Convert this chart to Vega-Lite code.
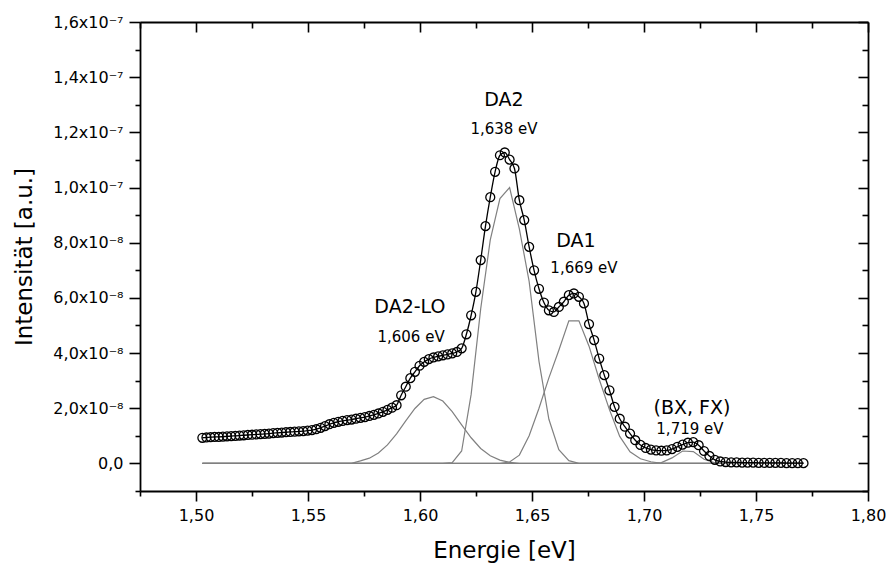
{
  "$schema": "https://vega.github.io/schema/vega-lite/v6.json",
  "width": 728,
  "height": 469,
  "autosize": {"type": "none"},
  "padding": {"left": 140, "top": 22, "right": 21, "bottom": 74},
  "background": "white",
  "config": {
    "view": {"stroke": null},
    "axis": {
      "domainColor": "black", "tickColor": "black", "domainWidth": 1.8, "tickWidth": 1.6,
      "labelFont": "DejaVu Sans", "labelFontSize": 16, "labelColor": "black",
      "titleFont": "DejaVu Sans", "titleFontSize": 23, "titleFontWeight": "normal", "titleColor": "black",
      "grid": false, "labelFlush": false, "labelOverlap": false
    }
  },
  "datasets": {
    "pts": [
      {"E":1.50284,"I":0.93e-8},{"E":1.50466,"I":0.94e-8},{"E":1.50649,"I":0.95e-8},{"E":1.50832,"I":0.96e-8},
      {"E":1.51016,"I":0.96e-8},{"E":1.51200,"I":0.97e-8},{"E":1.51385,"I":0.98e-8},{"E":1.51570,"I":0.99e-8},
      {"E":1.51755,"I":1.00e-8},{"E":1.51941,"I":1.01e-8},{"E":1.52127,"I":1.02e-8},{"E":1.52314,"I":1.03e-8},
      {"E":1.52502,"I":1.04e-8},{"E":1.52690,"I":1.05e-8},{"E":1.52878,"I":1.06e-8},{"E":1.53067,"I":1.07e-8},
      {"E":1.53256,"I":1.08e-8},{"E":1.53446,"I":1.10e-8},{"E":1.53636,"I":1.11e-8},{"E":1.53826,"I":1.12e-8},
      {"E":1.54017,"I":1.13e-8},{"E":1.54209,"I":1.14e-8},{"E":1.54401,"I":1.15e-8},{"E":1.54594,"I":1.16e-8},
      {"E":1.54787,"I":1.17e-8},{"E":1.54980,"I":1.19e-8},{"E":1.55174,"I":1.21e-8},{"E":1.55368,"I":1.24e-8},
      {"E":1.55563,"I":1.29e-8},{"E":1.55759,"I":1.35e-8},{"E":1.55955,"I":1.42e-8},{"E":1.56151,"I":1.47e-8},
      {"E":1.56348,"I":1.51e-8},{"E":1.56545,"I":1.54e-8},{"E":1.56743,"I":1.57e-8},{"E":1.56942,"I":1.59e-8},
      {"E":1.57141,"I":1.62e-8},{"E":1.57340,"I":1.65e-8},{"E":1.57540,"I":1.68e-8},{"E":1.57740,"I":1.72e-8},
      {"E":1.57941,"I":1.76e-8},{"E":1.58143,"I":1.81e-8},{"E":1.58345,"I":1.87e-8},{"E":1.58547,"I":1.94e-8},
      {"E":1.58750,"I":2.02e-8},{"E":1.58954,"I":2.11e-8},{"E":1.59158,"I":2.47e-8},{"E":1.59363,"I":2.78e-8},
      {"E":1.59568,"I":3.09e-8},{"E":1.59773,"I":3.32e-8},{"E":1.59979,"I":3.54e-8},{"E":1.60186,"I":3.68e-8},
      {"E":1.60393,"I":3.78e-8},{"E":1.60601,"I":3.84e-8},{"E":1.60809,"I":3.88e-8},{"E":1.61018,"I":3.92e-8},
      {"E":1.61228,"I":3.95e-8},{"E":1.61438,"I":3.99e-8},{"E":1.61648,"I":4.04e-8},{"E":1.61859,"I":4.17e-8},
      {"E":1.62071,"I":4.68e-8},{"E":1.62283,"I":5.37e-8},{"E":1.62496,"I":6.22e-8},{"E":1.62709,"I":7.37e-8},
      {"E":1.62923,"I":8.60e-8},{"E":1.63137,"I":9.65e-8},{"E":1.63352,"I":10.57e-8},{"E":1.63568,"I":11.17e-8},
      {"E":1.63784,"I":11.27e-8},{"E":1.64000,"I":11.01e-8},{"E":1.64217,"I":10.69e-8},{"E":1.64435,"I":9.54e-8},
      {"E":1.64653,"I":8.82e-8},{"E":1.64872,"I":7.85e-8},{"E":1.65092,"I":7.00e-8},{"E":1.65312,"I":6.33e-8},
      {"E":1.65532,"I":5.83e-8},{"E":1.65754,"I":5.55e-8},{"E":1.65976,"I":5.49e-8},{"E":1.66198,"I":5.67e-8},
      {"E":1.66422,"I":5.86e-8},{"E":1.66645,"I":6.10e-8},{"E":1.66869,"I":6.16e-8},{"E":1.67094,"I":6.04e-8},
      {"E":1.67320,"I":5.80e-8},{"E":1.67546,"I":5.05e-8},{"E":1.67773,"I":4.47e-8},{"E":1.68000,"I":3.80e-8},
      {"E":1.68228,"I":3.20e-8},{"E":1.68457,"I":2.65e-8},{"E":1.68686,"I":2.05e-8},{"E":1.68916,"I":1.62e-8},
      {"E":1.69146,"I":1.33e-8},{"E":1.69377,"I":1.08e-8},{"E":1.69609,"I":0.84e-8},{"E":1.69841,"I":0.67e-8},
      {"E":1.70074,"I":0.56e-8},{"E":1.70308,"I":0.50e-8},{"E":1.70542,"I":0.47e-8},{"E":1.70777,"I":0.46e-8},
      {"E":1.71013,"I":0.47e-8},{"E":1.71249,"I":0.52e-8},{"E":1.71486,"I":0.60e-8},{"E":1.71723,"I":0.68e-8},
      {"E":1.71961,"I":0.75e-8},{"E":1.72200,"I":0.77e-8},{"E":1.72440,"I":0.66e-8},{"E":1.72680,"I":0.45e-8},
      {"E":1.72920,"I":0.27e-8},{"E":1.73162,"I":0.13e-8},{"E":1.73404,"I":0.07e-8},{"E":1.73647,"I":0.05e-8},
      {"E":1.73891,"I":0.04e-8},{"E":1.74135,"I":0.04e-8},{"E":1.74380,"I":0.03e-8},{"E":1.74625,"I":0.03e-8},
      {"E":1.74871,"I":0.03e-8},{"E":1.75118,"I":0.02e-8},{"E":1.75366,"I":0.02e-8},{"E":1.75614,"I":0.02e-8},
      {"E":1.75864,"I":0.02e-8},{"E":1.76114,"I":0.02e-8},{"E":1.76364,"I":0.01e-8},{"E":1.76615,"I":0.01e-8},
      {"E":1.76867,"I":0.01e-8},{"E":1.77120,"I":0.01e-8}
    ],
    "comp": [
      {"c":"DA2-LO","E":1.50284,"I":0},{"c":"DA2-LO","E":1.56942,"I":0},{"c":"DA2-LO","E":1.57340,"I":0.09e-8},
      {"c":"DA2-LO","E":1.57740,"I":0.19e-8},{"c":"DA2-LO","E":1.58143,"I":0.38e-8},{"c":"DA2-LO","E":1.58547,"I":0.67e-8},
      {"c":"DA2-LO","E":1.58954,"I":1.07e-8},{"c":"DA2-LO","E":1.59363,"I":1.54e-8},{"c":"DA2-LO","E":1.59773,"I":1.99e-8},
      {"c":"DA2-LO","E":1.60186,"I":2.32e-8},{"c":"DA2-LO","E":1.60601,"I":2.42e-8},{"c":"DA2-LO","E":1.61018,"I":2.26e-8},
      {"c":"DA2-LO","E":1.61438,"I":1.88e-8},{"c":"DA2-LO","E":1.61859,"I":1.40e-8},{"c":"DA2-LO","E":1.62283,"I":0.93e-8},
      {"c":"DA2-LO","E":1.62709,"I":0.54e-8},{"c":"DA2-LO","E":1.63137,"I":0.28e-8},{"c":"DA2-LO","E":1.63568,"I":0.12e-8},
      {"c":"DA2-LO","E":1.64000,"I":0.04e-8},{"c":"DA2-LO","E":1.64435,"I":0},{"c":"DA2-LO","E":1.77120,"I":0},
      {"c":"DA2","E":1.50284,"I":0},{"c":"DA2","E":1.61018,"I":0},{"c":"DA2","E":1.61438,"I":0.03e-8},
      {"c":"DA2","E":1.61859,"I":0.45e-8},{"c":"DA2","E":1.62283,"I":2.5e-8},{"c":"DA2","E":1.62709,"I":5.6e-8},
      {"c":"DA2","E":1.63137,"I":8.1e-8},{"c":"DA2","E":1.63568,"I":9.6e-8},{"c":"DA2","E":1.64000,"I":10.0e-8},
      {"c":"DA2","E":1.64435,"I":8.5e-8},{"c":"DA2","E":1.64872,"I":6.6e-8},{"c":"DA2","E":1.65312,"I":3.7e-8},
      {"c":"DA2","E":1.65754,"I":1.6e-8},{"c":"DA2","E":1.66198,"I":0.5e-8},{"c":"DA2","E":1.66645,"I":0.1e-8},
      {"c":"DA2","E":1.67094,"I":0},{"c":"DA2","E":1.77120,"I":0},
      {"c":"DA1","E":1.50284,"I":0},{"c":"DA1","E":1.63568,"I":0},{"c":"DA1","E":1.64000,"I":0.05e-8},
      {"c":"DA1","E":1.64435,"I":0.3e-8},{"c":"DA1","E":1.64872,"I":1.0e-8},{"c":"DA1","E":1.65312,"I":2.0e-8},
      {"c":"DA1","E":1.65754,"I":3.1e-8},{"c":"DA1","E":1.66198,"I":4.1e-8},{"c":"DA1","E":1.66645,"I":5.17e-8},
      {"c":"DA1","E":1.67094,"I":5.17e-8},{"c":"DA1","E":1.67546,"I":4.25e-8},{"c":"DA1","E":1.68000,"I":3.05e-8},
      {"c":"DA1","E":1.68457,"I":1.95e-8},{"c":"DA1","E":1.68916,"I":0.98e-8},{"c":"DA1","E":1.69377,"I":0.42e-8},
      {"c":"DA1","E":1.69841,"I":0.17e-8},{"c":"DA1","E":1.70308,"I":0.06e-8},{"c":"DA1","E":1.70777,"I":0},
      {"c":"DA1","E":1.77120,"I":0},
      {"c":"BX","E":1.50284,"I":0},{"c":"BX","E":1.70308,"I":0},{"c":"BX","E":1.70777,"I":0.03e-8},
      {"c":"BX","E":1.71249,"I":0.2e-8},{"c":"BX","E":1.71723,"I":0.45e-8},{"c":"BX","E":1.72200,"I":0.43e-8},
      {"c":"BX","E":1.72680,"I":0.15e-8},{"c":"BX","E":1.73162,"I":0.02e-8},{"c":"BX","E":1.73647,"I":0},
      {"c":"BX","E":1.77120,"I":0}
    ],
    "ann": [
      {"t":"DA2","E":1.6375,"I":13.16e-8,"k":"n"},
      {"t":"1,638 eV","E":1.6375,"I":12.11e-8,"k":"e"},
      {"t":"DA1","E":1.6696,"I":8.06e-8,"k":"n"},
      {"t":"1,669 eV","E":1.6732,"I":7.08e-8,"k":"e"},
      {"t":"DA2-LO","E":1.5955,"I":5.68e-8,"k":"n"},
      {"t":"1,606 eV","E":1.5960,"I":4.58e-8,"k":"e"},
      {"t":"(BX, FX)","E":1.7214,"I":2.0e-8,"k":"n"},
      {"t":"1,719 eV","E":1.7205,"I":1.24e-8,"k":"e"}
    ]
  },
  "resolve": {"axis": {"x": "independent", "y": "independent"}},
  "layer": [
    {
      "data": {"name": "comp"},
      "mark": {"type": "line", "color": "#808080", "strokeWidth": 1.2},
      "encoding": {
        "x": {
          "field": "E", "type": "quantitative",
          "scale": {"domain": [1.475, 1.8], "nice": false, "zero": false},
          "axis": {
            "orient": "bottom", "title": "Energie [eV]",
            "values": [1.475,1.5,1.525,1.55,1.575,1.6,1.625,1.65,1.675,1.7,1.725,1.75,1.775,1.8],
            "labelExpr": "abs(datum.value*20 - round(datum.value*20)) < 0.001 ? replace(format(datum.value, '.2f'), '.', ',') : ''",
            "tickSize": {"condition": {"test": "abs(datum.value*20 - round(datum.value*20)) < 0.001", "value": 10}, "value": 5},
            "labelPadding": 6,
            "titleBaseline": "alphabetic", "titleY": 66
          }
        },
        "y": {
          "field": "I", "type": "quantitative",
          "scale": {"domain": [-1e-8, 1.6e-7], "nice": false, "zero": false},
          "axis": {
            "orient": "left", "title": "Intensität [a.u.]",
            "values": [-1e-8,0,1e-8,2e-8,3e-8,4e-8,5e-8,6e-8,7e-8,8e-8,9e-8,1e-7,1.1e-7,1.2e-7,1.3e-7,1.4e-7,1.5e-7,1.6e-7],
            "labelExpr": "abs(datum.value) < 1e-12 ? '0,0' : (abs(datum.value*5e7 - round(datum.value*5e7)) > 0.01 ? '' : (datum.value > 9.5e-8 ? replace(format(datum.value*1e7, '.1f'), '.', ',') + 'x10⁻⁷' : replace(format(datum.value*1e8, '.1f'), '.', ',') + 'x10⁻⁸'))",
            "tickSize": {"condition": {"test": "abs(datum.value*5e7 - round(datum.value*5e7)) < 0.01", "value": 11}, "value": 5},
            "labelPadding": 6,
            "titleAngle": -90, "titleBaseline": "alphabetic", "titleX": -109
          }
        },
        "detail": {"field": "c"}
      }
    },
    {
      "data": {"name": "pts"},
      "mark": {"type": "line", "color": "black", "strokeWidth": 1.3, "interpolate": "monotone"},
      "encoding": {
        "x": {
          "field": "E", "type": "quantitative",
          "scale": {"domain": [1.475, 1.8], "nice": false, "zero": false},
          "axis": {
            "orient": "top", "title": null, "labels": false,
            "values": [1.475,1.5,1.525,1.55,1.575,1.6,1.625,1.65,1.675,1.7,1.725,1.75,1.775,1.8],
            "tickSize": {"condition": {"test": "abs(datum.value*20 - round(datum.value*20)) < 0.001", "value": -10}, "value": -6}
          }
        },
        "y": {
          "field": "I", "type": "quantitative",
          "scale": {"domain": [-1e-8, 1.6e-7], "nice": false, "zero": false},
          "axis": {
            "orient": "right", "title": null, "labels": false,
            "values": [-1e-8,0,1e-8,2e-8,3e-8,4e-8,5e-8,6e-8,7e-8,8e-8,9e-8,1e-7,1.1e-7,1.2e-7,1.3e-7,1.4e-7,1.5e-7,1.6e-7],
            "tickSize": {"condition": {"test": "abs(datum.value*5e7 - round(datum.value*5e7)) < 0.01", "value": -10}, "value": -6}
          }
        }
      }
    },
    {
      "data": {"name": "pts"},
      "mark": {"type": "point", "shape": "circle", "filled": false, "color": "black", "strokeWidth": 1.3, "size": 80, "opacity": 1},
      "encoding": {
        "x": {"field": "E", "type": "quantitative", "scale": {"domain": [1.475, 1.8], "nice": false, "zero": false}, "axis": null},
        "y": {"field": "I", "type": "quantitative", "scale": {"domain": [-1e-8, 1.6e-7], "nice": false, "zero": false}, "axis": null}
      }
    },
    {
      "data": {"name": "ann"},
      "transform": [{"filter": "datum.k == 'n'"}],
      "mark": {"type": "text", "font": "DejaVu Sans", "fontSize": 19, "color": "black", "baseline": "middle", "align": "center"},
      "encoding": {
        "x": {"field": "E", "type": "quantitative", "scale": {"domain": [1.475, 1.8], "nice": false, "zero": false}, "axis": null},
        "y": {"field": "I", "type": "quantitative", "scale": {"domain": [-1e-8, 1.6e-7], "nice": false, "zero": false}, "axis": null},
        "text": {"field": "t"}
      }
    },
    {
      "data": {"name": "ann"},
      "transform": [{"filter": "datum.k == 'e'"}],
      "mark": {"type": "text", "font": "DejaVu Sans", "fontSize": 15, "color": "black", "baseline": "middle", "align": "center"},
      "encoding": {
        "x": {"field": "E", "type": "quantitative", "scale": {"domain": [1.475, 1.8], "nice": false, "zero": false}, "axis": null},
        "y": {"field": "I", "type": "quantitative", "scale": {"domain": [-1e-8, 1.6e-7], "nice": false, "zero": false}, "axis": null},
        "text": {"field": "t"}
      }
    }
  ]
}
